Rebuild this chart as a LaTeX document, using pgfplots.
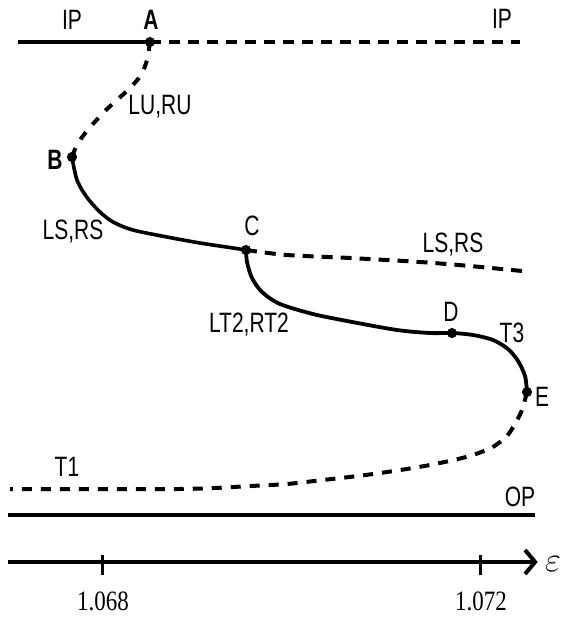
\documentclass[border=0pt]{standalone}
\usepackage{pgfplots}
\pgfplotsset{compat=1.18}
\usetikzlibrary{arrows.meta}
\usepackage{fontspec}
\newfontfamily\labfont[FakeStretch=0.75]{Liberation Sans}
\newfontfamily\tickfont[FakeStretch=0.82]{Liberation Serif}
\newcommand\lab{\labfont\fontsize{14}{16}\selectfont}
\begin{document}
\begin{tikzpicture}
\begin{axis}[
  scale only axis, width=264.6pt, height=309pt,
  xmin=1.067, xmax=1.0726, ymin=-56, ymax=562,
  axis x line=middle, axis y line=none,
  x axis line style={line width=2pt, -{Straight Barb[length=5pt,width=12pt,line width=2pt]}},
  xtick={1.068,1.072}, xticklabels={1.068,1.072},
  ytick=\empty,
  major tick length=10pt, tick align=center,
  tick style={line width=1.5pt, black, yshift=-1.5pt},
  xticklabel style={font=\tickfont\fontsize{14}{16}\selectfont, yshift=-6.5pt},
  clip=false,
]
% invisible frame giving the picture its size
\path (axis cs:1.0669101,-56) rectangle (axis cs:1.0728466,562);

% IP branch: stable (solid) then unstable (dashed)
\addplot[line width=2pt] coordinates {(1.067101,520) (1.068497,520)};
\addplot[line width=2pt, dash pattern=on 5.5pt off 4pt] coordinates {(1.068497,520) (1.072413,520)};

% A -> B unstable (LU,RU)
\addplot[line width=2pt, dash pattern=on 4.5pt off 5pt, smooth] coordinates {
(1.068497,520) (1.068466,502) (1.068402,487) (1.068286,474) (1.068159,463)
(1.068021,451) (1.067894,438) (1.067788,426) (1.067714,415) (1.067672,405)};

% B -> C stable (LS,RS)
\addplot[line width=1.8pt, smooth] coordinates {
(1.067672,405) (1.067693,394) (1.067725,382) (1.067778,372) (1.067852,362)
(1.067968,350) (1.068106,340) (1.068317,332) (1.068677,325) (1.069026,319)
(1.069376,314) (1.069513,312)};

% C -> right unstable (LS,RS)
\addplot[line width=2pt, dash pattern=on 5.5pt off 4pt, smooth] coordinates {
(1.069513,312) (1.069947,307) (1.070614,304) (1.071354,300) (1.071884,296) (1.072434,291)};

% C -> D -> E stable (LT2,RT2 / T3)
\addplot[line width=1.9pt, smooth] coordinates {
(1.069513,312) (1.069524,300) (1.069577,284) (1.069683,270) (1.069873,258)
(1.070222,248) (1.070582,241) (1.071111,232) (1.071460,229) (1.071693,229)
(1.071915,227) (1.072127,222) (1.072286,213) (1.072392,201) (1.072466,186) (1.072487,170)};

% E -> left unstable (T1)
\addplot[line width=2pt, dash pattern=on 5pt off 4.5pt, smooth] coordinates {
(1.072487,170) (1.072434,152) (1.072370,140) (1.072275,126) (1.072106,114)
(1.071841,105) (1.071460,97) (1.071079,91) (1.070698,86) (1.070328,82)
(1.069947,78) (1.069566,76) (1.069185,74) (1.068804,73) (1.068053,73) (1.067016,73)};

% OP branch
\addplot[line width=2pt] coordinates {(1.066995,47) (1.072571,47)};

% bifurcation points A, B, C, D, E
\addplot[only marks, mark=*, mark size=2.3pt, black] coordinates {
(1.068497,520) (1.067672,405) (1.069513,312) (1.071693,229) (1.072487,170)};

% labels
\node[font=\lab] at (axis cs:1.067672,542) {IP};
\node[font=\lab\bfseries] at (axis cs:1.068508,542) {A};
\node[font=\lab] at (axis cs:1.072222,543) {IP};
\node[font=\lab] at (axis cs:1.068603,455) {LU,RU};
\node[font=\lab\bfseries] at (axis cs:1.067492,402) {B};
\node[font=\lab] at (axis cs:1.067683,330) {LS,RS};
\node[font=\lab] at (axis cs:1.069577,336) {C};
\node[font=\lab] at (axis cs:1.071704,317) {LS,RS};
\node[font=\lab] at (axis cs:1.069545,237) {LT2,RT2};
\node[font=\lab] at (axis cs:1.071683,250) {D};
\node[font=\lab] at (axis cs:1.072328,229) {T3};
\node[font=\lab] at (axis cs:1.072646,165) {E};
\node[font=\lab] at (axis cs:1.067619,95) {T1};
\node[font=\lab] at (axis cs:1.072413,65) {OP};
\node[font=\fontsize{16}{18}\selectfont] at (axis cs:1.072762,-2) {$\varepsilon$};
\end{axis}
\end{tikzpicture}
\end{document}
